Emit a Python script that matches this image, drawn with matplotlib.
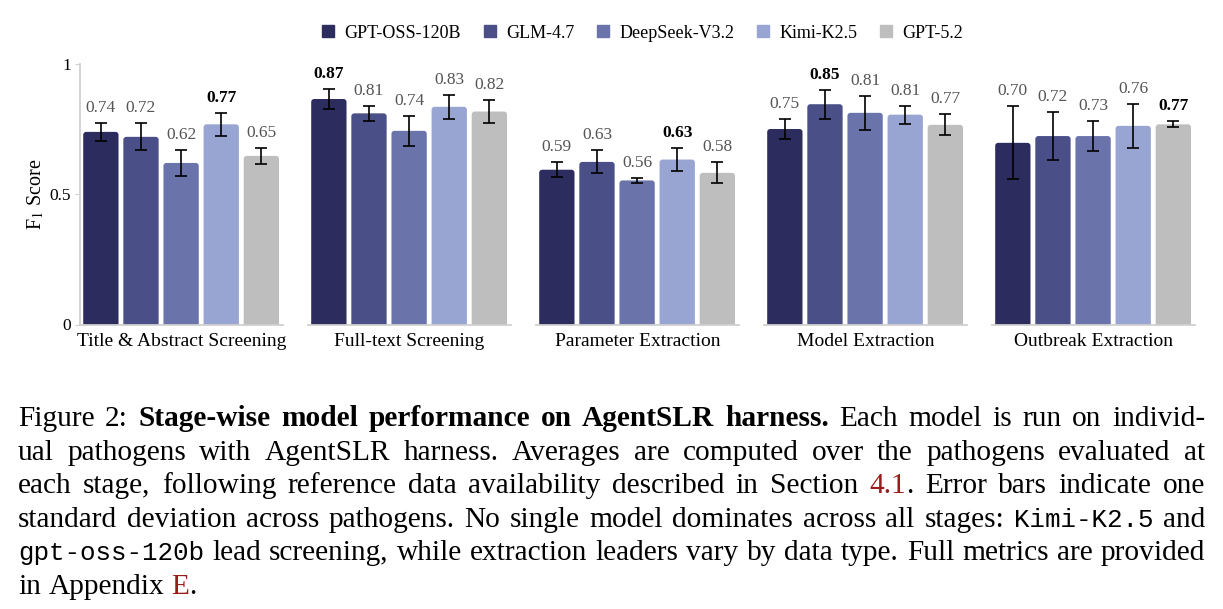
import matplotlib
matplotlib.use("Agg")
import matplotlib.pyplot as plt
from matplotlib.patches import FancyBboxPatch
from matplotlib.lines import Line2D
import numpy as np

plt.rcParams["font.family"] = "serif"
plt.rcParams["font.serif"] = ["Liberation Serif", "DejaVu Serif"]
plt.rcParams["mathtext.fontset"] = "stix"

# ---------------- data ----------------
stages = ["Title & Abstract Screening", "Full-text Screening", "Parameter Extraction",
          "Model Extraction", "Outbreak Extraction"]
models = ["GPT-OSS-120B", "GLM-4.7", "DeepSeek-V3.2", "Kimi-K2.5", "GPT-5.2"]
colors = ["#2c2d5e", "#4a4f88", "#6a74ab", "#98a4d2", "#bebebe"]

scores_title_abstract = [0.738, 0.719, 0.619, 0.767, 0.646]
scores_full_text = [0.864, 0.809, 0.742, 0.834, 0.816]
scores_parameter = [0.593, 0.623, 0.552, 0.632, 0.581]
scores_model = [0.749, 0.844, 0.811, 0.804, 0.765]
scores_outbreak = [0.696, 0.722, 0.722, 0.761, 0.767]

std_title_abstract = [0.035, 0.052, 0.049, 0.045, 0.031]
std_full_text = [0.037, 0.029, 0.058, 0.046, 0.044]
std_parameter = [0.029, 0.044, 0.010, 0.045, 0.040]
std_model = [0.040, 0.056, 0.064, 0.035, 0.040]
std_outbreak = [0.140, 0.093, 0.056, 0.083, 0.012]

labels_title_abstract = ["0.74", "0.72", "0.62", "0.77", "0.65"]
labels_full_text = ["0.87", "0.81", "0.74", "0.83", "0.82"]
labels_parameter = ["0.59", "0.63", "0.56", "0.63", "0.58"]
labels_model = ["0.75", "0.85", "0.81", "0.81", "0.77"]
labels_outbreak = ["0.70", "0.72", "0.73", "0.76", "0.77"]

best_model_index = [3, 0, 3, 1, 4]

yticks = [0, 0.5, 1]
ytick_labels = ["0", "0.5", "1"]

caption_lines = [
    "Figure 2: *Stage-wise model performance on AgentSLR harness.* Each model is run on individ-",
    "ual pathogens with AgentSLR harness. Averages are computed over the pathogens evaluated at",
    "each stage, following reference data availability described in Section [4.1]. Error bars indicate one",
    "standard deviation across pathogens. No single model dominates across all stages: `Kimi-K2.5` and",
    "`gpt-oss-120b` lead screening, while extraction leaders vary by data type. Full metrics are provided",
    "in Appendix [E].",
]

all_scores = [scores_title_abstract, scores_full_text, scores_parameter, scores_model, scores_outbreak]
all_std = [std_title_abstract, std_full_text, std_parameter, std_model, std_outbreak]
all_labels = [labels_title_abstract, labels_full_text, labels_parameter, labels_model, labels_outbreak]

# ---------------- figure ----------------
W_PX, H_PX = 1223, 609
fig = plt.figure(figsize=(W_PX / 100, H_PX / 100), dpi=100)
gs = fig.add_gridspec(1, 5, left=80 / W_PX, right=1195 / W_PX,
                      bottom=1 - 324.5 / H_PX, top=1 - 63.5 / H_PX, wspace=0.123)

spine_col = "#d0d0d0"
bar_w = 0.88
x = np.arange(len(models))
rs = 0.075
asp = 0.153

axes = []
for i in range(5):
    ax = fig.add_subplot(gs[0, i], sharey=axes[0] if axes else None)
    axes.append(ax)
    vals = all_scores[i]
    errs = all_std[i]
    bars = ax.bar(x, vals, width=bar_w, color=colors, zorder=2)
    for rect, c in zip(bars, colors):
        bx, bw, bh = rect.get_x(), rect.get_width(), rect.get_height()
        rect.remove()
        p = FancyBboxPatch((bx, -0.03), bw, bh + 0.03,
                           boxstyle=f"round,pad=0,rounding_size={rs}",
                           mutation_aspect=asp, facecolor=c, edgecolor="none", zorder=2)
        ax.add_patch(p)
    ax.errorbar(x, vals, yerr=errs, fmt="none", ecolor="black", elinewidth=1.2,
                capsize=4, capthick=1.2, zorder=3)
    for j in range(len(models)):
        top = vals[j] + errs[j]
        if j == best_model_index[i]:
            ax.annotate(all_labels[i][j], (x[j], top), xytext=(0, 5), textcoords="offset points",
                        ha="center", va="bottom", fontsize=12.5, fontweight="bold", color="black")
        else:
            ax.annotate(all_labels[i][j], (x[j], top), xytext=(0, 5), textcoords="offset points",
                        ha="center", va="bottom", fontsize=12.5, color="#555555")
    ax.set_xlim(-0.52, 4.54)
    ax.set_ylim(0, 1)
    ax.set_xticks([])
    ax.set_xlabel(stages[i], fontsize=14, labelpad=6)
    for s in ["top", "right"]:
        ax.spines[s].set_visible(False)
    ax.spines["bottom"].set_color(spine_col)
    ax.spines["bottom"].set_linewidth(1.3)
    if i == 0:
        ax.spines["left"].set_color(spine_col)
        ax.spines["left"].set_linewidth(1.3)
        ax.set_yticks(yticks)
        ax.set_yticklabels(ytick_labels)
        ax.tick_params(axis="y", labelsize=12.5, length=3.5, color=spine_col, pad=3)
        ax.set_ylabel("F$_1$ Score", fontsize=14.5)
        ax.yaxis.set_label_coords(-34 / 203, 0.5)
    else:
        ax.spines["left"].set_visible(False)
        ax.tick_params(axis="y", left=False, labelleft=False)

handles = [Line2D([], [], marker="s", linestyle="none", markersize=8, markerfacecolor=c,
                  markeredgecolor=c) for c in colors]
fig.legend(handles, models, loc="center", bbox_to_anchor=(641 / W_PX, 1 - 33 / H_PX), ncol=5,
           frameon=False, fontsize=13, handletextpad=0.4, columnspacing=1.1, handlelength=1.0)

# ---------------- caption (justified) ----------------
renderer = fig.canvas.get_renderer()
x0, x1 = 18, 1205
base0, lh = 426, 33.6
mono_family = ["Liberation Mono", "DejaVu Sans Mono"]


def make_styles(fs):
    return {
        "n": dict(fontsize=fs, color="black"),
        "b": dict(fontsize=fs, color="black", fontweight="bold"),
        "m": dict(fontsize=fs * 0.88, color="black", family=mono_family),
        "r": dict(fontsize=fs, color="#9b1b1b"),
    }


def parse(line):
    tokens, cur, buf = [], [], ""
    state = "n"

    def flush():
        nonlocal buf
        if buf:
            cur.append((buf, state))
            buf = ""

    for ch in line:
        if ch == "*":
            flush(); state = "b" if state != "b" else "n"
        elif ch == "`":
            flush(); state = "m" if state != "m" else "n"
        elif ch == "[":
            flush(); state = "r"
        elif ch == "]":
            flush(); state = "n"
        elif ch == " ":
            flush()
            if cur:
                tokens.append(cur)
                cur = []
        else:
            buf += ch
    flush()
    if cur:
        tokens.append(cur)
    return tokens


def measure(s, st, styles):
    t = fig.text(0, 0, s, **styles[st])
    w = t.get_window_extent(renderer).width
    t.remove()
    return w


def space_width(styles):
    return measure("a a", "n", styles) - measure("aa", "n", styles)


parsed = [parse(l) for l in caption_lines]

# choose the font size so that lines fit the column with near-normal word spacing
base_fs = 20
st0 = make_styles(base_fs)
sw0 = space_width(st0)
ratios = []
for toks in parsed[:-1]:
    nat = sum(measure(s, st, st0) for tok in toks for s, st in tok) + sw0 * (len(toks) - 1)
    ratios.append((x1 - x0) / nat)
cap_fs = base_fs * min(ratios) * 0.995
styles = make_styles(cap_fs)
space_w = space_width(styles)

for li, toks in enumerate(parsed):
    runs_all, widths = [], []
    for tok in toks:
        runs, tw = [], 0.0
        for s, st in tok:
            t = fig.text(0, 0, s, ha="left", va="baseline", **styles[st])
            w = t.get_window_extent(renderer).width
            runs.append((t, w))
            tw += w
        runs_all.append(runs)
        widths.append(tw)
    total = sum(widths)
    if li == len(parsed) - 1:
        gap = space_w
    else:
        gap = (x1 - x0 - total) / max(len(toks) - 1, 1)
    xp = x0
    yb = base0 + li * lh
    for runs in runs_all:
        for t, w in runs:
            t.set_position((xp / W_PX, 1 - yb / H_PX))
            xp += w
        xp += gap

fig.savefig("out.png", dpi=100)
